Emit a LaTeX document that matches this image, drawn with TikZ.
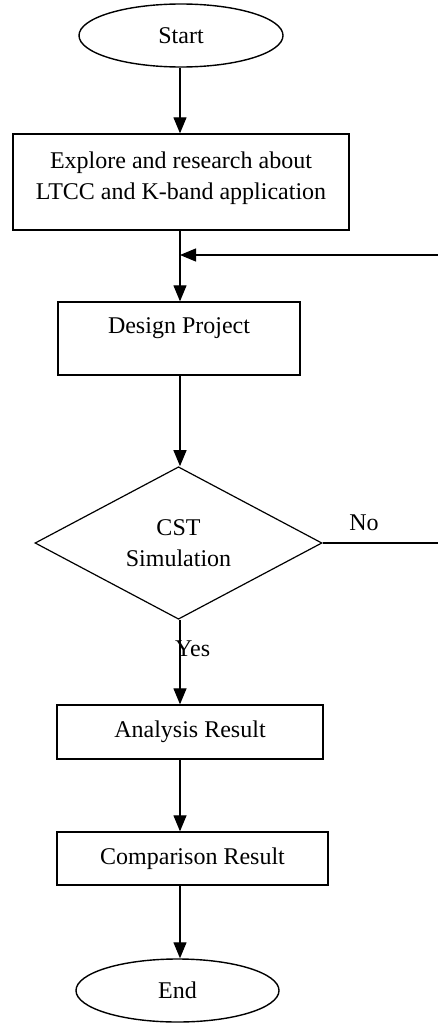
\documentclass[tikz,border=0pt]{standalone}
\usepackage{fontspec}
\setmainfont{Liberation Serif}
\usetikzlibrary{arrows.meta,shapes.geometric}

\tikzset{
  txt/.style={font=\fontsize{24}{31}\selectfont},
  box/.style={txt, draw, line width=1.3pt, inner sep=0pt, align=center},
  term/.style={txt, draw, ellipse, line width=1.4pt, inner sep=0pt},
  decision/.style={txt, draw, diamond, line width=1.2pt, inner sep=0pt, align=center},
  flow/.style={line width=1.2pt, -{Triangle[width=13pt,length=16pt]}},
  link/.style={line width=1.2pt},
  lbl/.style={txt, inner sep=0pt}
}

\begin{document}
\begin{tikzpicture}[x=1pt,y=-1pt]
  \useasboundingbox (0,0) rectangle (438,1023);

  % process blocks
  \node[term, minimum width=204pt, minimum height=63pt] (start) at (181,35.5) {Start};
  \node[box, minimum width=336pt, minimum height=96pt] (explore) at (181,182)
    {Explore and research about\\LTCC and K-band application\rule[-13pt]{0pt}{1pt}};
  \node[box, minimum width=242pt, minimum height=73pt, text height=17pt, text depth=27pt] (design) at (179,338.5) {Design Project};
  \node[decision, minimum width=287pt, minimum height=144pt] (cst) at (178.5,543) {CST\\Simulation};
  \node[box, minimum width=266pt, minimum height=54pt] (analysis) at (190,732) {Analysis Result};
  \node[box, minimum width=271pt, minimum height=53pt] (compare) at (192.5,858.5) {Comparison Result};
  \node[term, minimum width=203pt, minimum height=63pt] (end) at (177.5,990.5) {End};

  % main flow along the vertical axis
  \coordinate (axis) at (180,0);
  \coordinate (merge) at (180,255);
  \coordinate (turnA) at (444,543);
  \coordinate (turnB) at (444,255);

  \draw[flow] (start.south -| axis) -- (explore.north -| axis);
  \draw[flow] (explore.south -| axis) -- (design.north -| axis);
  \draw[flow] (design.south -| axis) -- (cst.north -| axis);
  \draw[flow] (cst.south -| axis) -- (analysis.north -| axis);
  \draw[flow] (analysis.south -| axis) -- (compare.north -| axis);
  \draw[flow] (compare.south -| axis) -- (end.north -| axis);

  % loop back when the simulation fails
  \draw[link] (cst.east) -- (turnA) -- (turnB);
  \draw[flow] (turnB) -- (merge);

  % branch labels
  \node[lbl] (no) at (364,523) {No};
  \node[lbl, anchor=west] (yes) at (175,649) {Yes};
\end{tikzpicture}
\end{document}
